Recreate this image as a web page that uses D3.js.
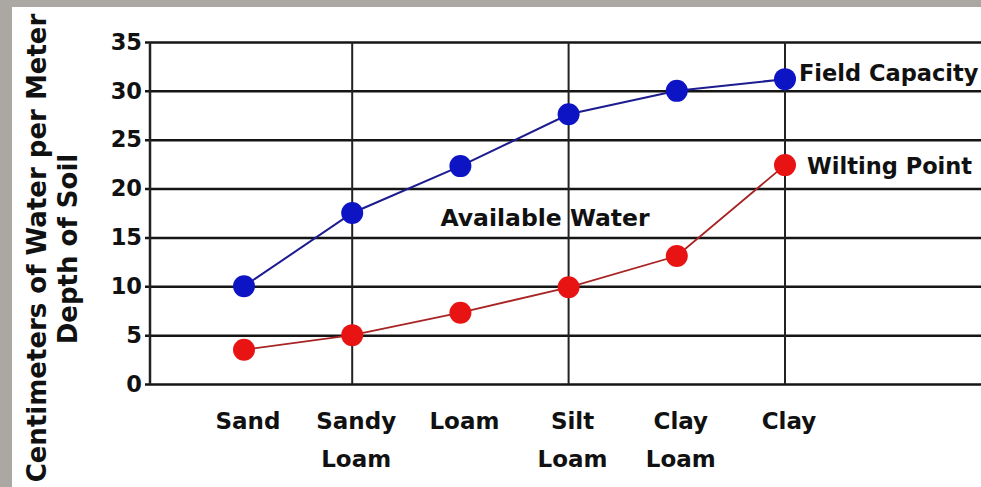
<!DOCTYPE html>
<meta charset="utf-8">
<style>
body {margin: 0; background: #aba7a2;}
text {font-family: "DejaVu Sans", Verdana, sans-serif; font-weight: bold; fill: #111;}
.grid line {stroke: #151515; stroke-width: 2.5px;}
.grid .domain {display: none;}
.vgrid {stroke: #222; stroke-width: 2px;}
.fc {fill: none; stroke: #1c1c90; stroke-width: 2px;}
.wp {fill: none; stroke: #a82424; stroke-width: 1.8px;}
</style>
<body>
<script src="https://d3js.org/d3.v7.min.js"></script>
<script>
var soils = ["Sand", "Sandy Loam", "Loam", "Silt Loam", "Clay Loam", "Clay"]
var fieldCapacity = [10, 17.5, 22.3, 27.6, 30, 31.2]
var wiltingPoint = [3.5, 5, 7.3, 9.9, 13.1, 22.4]
var yTicks = [0, 5, 10, 15, 20, 25, 30, 35]
var gridSoils = ["Sandy Loam", "Silt Loam", "Clay"]
var yTitle = ["Centimeters of Water per Meter", "Depth of Soil"]

var width = 981, height = 487
var x = d3.scalePoint().domain(soils).range([244, 785])
var y = d3.scaleLinear().domain([0, 35]).range([384, 42])

var svg = d3.select("body").append("svg")
  .attr("width", width).attr("height", height)
  .style("display", "block")
svg.append("rect")
  .attr("width", width).attr("height", height).attr("fill", "#aba7a2")
svg.append("rect")
  .attr("x", 12).attr("y", 7)
  .attr("width", width).attr("height", height).attr("fill", "#fff")

// horizontal lines + tick labels
svg.append("g").attr("class", "grid")
  .attr("transform", "translate(150,0)")
  .call(d3.axisLeft(y).tickValues(yTicks)
    .tickSizeInner(-(width - 150)).tickSizeOuter(0).tickPadding(10))
  .call(g => g.selectAll(".tick text")
    .attr("x", -8).style("font-size", "22.5px")
    .style("font-family", "DejaVu Sans").style("font-weight", "bold").attr("fill", "#111"))
  .call(g => g.selectAll(".tick line").attr("x1", -5))
svg.append("line").attr("class", "vgrid")
  .attr("x1", 150).attr("x2", 150).attr("y1", y(35)).attr("y2", y(0))
  .style("stroke-width", "2.5px")
svg.selectAll(".vg").data(gridSoils).enter().append("line")
  .attr("class", "vgrid")
  .attr("x1", d => x(d)).attr("x2", d => x(d))
  .attr("y1", y(35)).attr("y2", y(0))

// category labels
var cat = svg.selectAll(".cat").data(soils).enter().append("text")
  .attr("class", "cat").attr("text-anchor", "middle")
  .style("font-size", "23px")
cat.selectAll("tspan").data(d => d.split(" ").map(s => [d, s])).enter()
  .append("tspan")
  .attr("x", d => x(d[0]) + 4)
  .attr("y", (d, i) => 429 + i * 38)
  .text(d => d[1])

// y title
svg.selectAll(".ytitle").data(yTitle).enter().append("text")
  .attr("text-anchor", "middle").style("font-size", "26px")
  .attr("transform", (d, i) => "translate(" + (46 + i * 31) + "," + (248 + i * 1) + ")rotate(-90)")
  .text(d => d)

var line = d3.line().x((d, i) => x(soils[i])).y(d => y(d))
svg.append("path").datum(wiltingPoint).attr("class", "wp").attr("d", line)
svg.append("path").datum(fieldCapacity).attr("class", "fc").attr("d", line)
svg.selectAll(".wpdot").data(wiltingPoint).enter().append("circle")
  .attr("cx", (d, i) => x(soils[i])).attr("cy", d => y(d))
  .attr("r", 11).attr("fill", "#e81414")
svg.selectAll(".fcdot").data(fieldCapacity).enter().append("circle")
  .attr("cx", (d, i) => x(soils[i])).attr("cy", d => y(d))
  .attr("r", 11).attr("fill", "#0c14c4")

// series labels
var last = soils.length - 1
svg.append("text").style("font-size", "22.5px")
  .attr("x", x(soils[last]) + 14).attr("y", y(fieldCapacity[last]) + 2)
  .text("Field Capacity")
svg.append("text").style("font-size", "22.5px")
  .attr("x", x(soils[last]) + 22).attr("y", y(wiltingPoint[last]) + 9)
  .text("Wilting Point")
svg.append("text").style("font-size", "23.5px")
  .attr("x", x("Loam") - 20).attr("y", y(16.2))
  .text("Available Water")
</script>
